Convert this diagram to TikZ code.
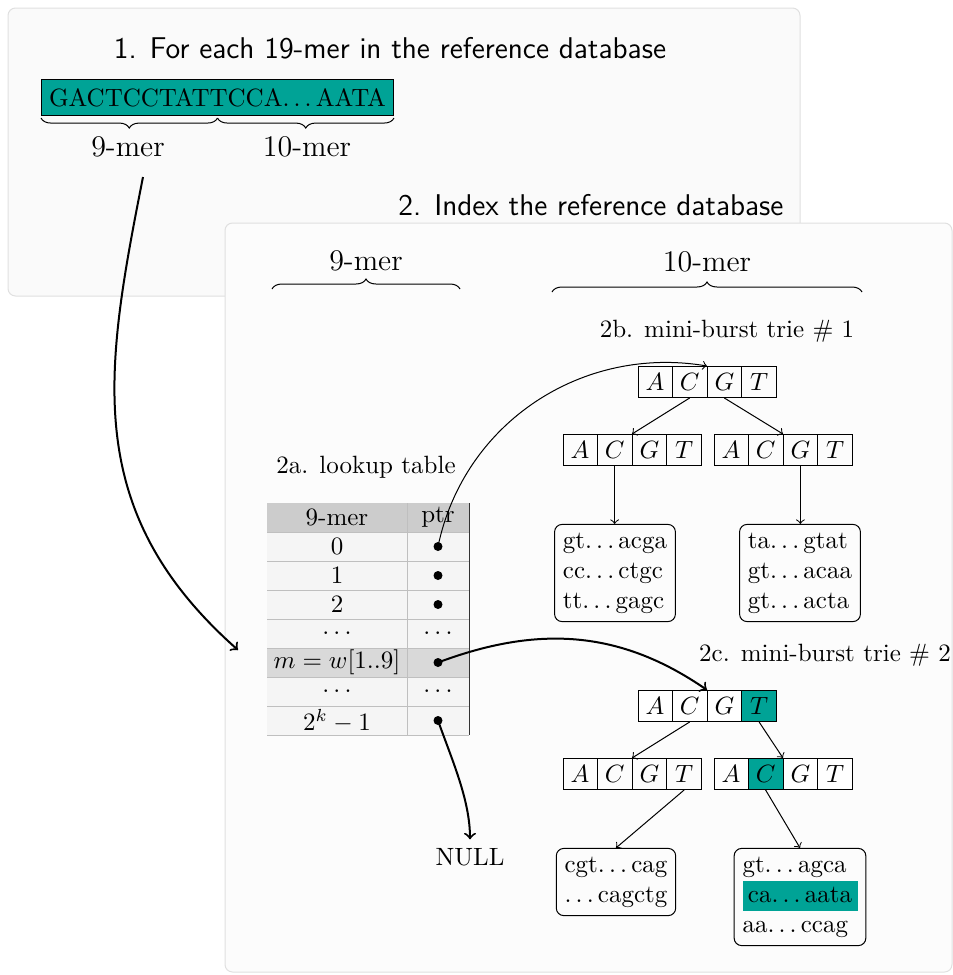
\documentclass[tikz,border=0pt]{standalone}
\usetikzlibrary{shapes.multipart,decorations.pathreplacing}
\definecolor{tealc}{RGB}{0,163,150}
\newcommand{\dd}{.\kern\fontdimen3\font.\kern\fontdimen3\font.\kern\fontdimen3\font}
\newcommand{\trcell}[1]{\makebox[13.5pt]{\rule[-2.8pt]{0pt}{12.4pt}$#1$}}
\newcommand{\acgt}{\trcell{A}\nodepart{two}\trcell{C}\nodepart{three}\trcell{G}\nodepart{four}\trcell{T}}
\begin{document}
\begin{tikzpicture}[x=0.4pt,y=-0.4pt,
    panel/.style={draw=black!12, fill=black!2, rounded corners=3pt},
    trie/.style={rectangle split, rectangle split horizontal, rectangle split parts=4, draw, inner sep=0pt},
    leaf/.style={draw, rounded corners=3pt, align=left},
    ptrdot/.style={circle, fill, inner sep=0pt, minimum size=3.6pt},
    rowline/.style={draw=black!25},
    bigarrow/.style={->, thick},
    title/.style={font=\large\sffamily},
    lbl/.style={font=\large}]
	\useasboundingbox (0,0) rectangle (953,975);
	% 1. the 19-mer
	\draw[panel] (8,8) rectangle (800,296);
	\node[title] (t1) at (390,48) {1. For each 19-mer in the reference database};
	\node[draw, fill=tealc, minimum height=14pt, inner xsep=3pt] (seq) at (217.5,97.5) {GACTCCTATTCCA\dd AATA};
	\draw[decorate, decoration={brace, mirror, amplitude=4pt}] ([yshift=-1pt]seq.south west) -- ([yshift=-1pt]seq.south);
	\draw[decorate, decoration={brace, mirror, amplitude=4pt}] ([yshift=-1pt]seq.south) -- ([yshift=-1pt]seq.south east);
	\node[lbl] (nine) at (128,147) {9-mer};
	\node[lbl] (ten) at (307,147) {10-mer};
	\node[title] (t2) at (591,205) {2. Index the reference database};
	% 2. the index
	\draw[panel, fill=black!1] (225,223) rectangle (952,972);
	\node[lbl] (nineB) at (366,261) {9-mer};
	\node[lbl] (tenB) at (707,262) {10-mer};
	\draw[decorate, decoration={brace, amplitude=4pt}] (272,289) -- (460,289);
	\draw[decorate, decoration={brace, amplitude=4pt}] (552,292) -- (862,292);
	% 2a. lookup table
	\node (lk) at (366,467) {2a. lookup table};
	\fill[black!20] (267,503) rectangle (469,532);
	\fill[black!4] (267,532) rectangle (469,735);
	\fill[black!15] (267,648) rectangle (469,677);
	\foreach \y in {532,561,...,735}
		\draw[rowline] (267,\y) -- (469,\y);
	\draw[rowline] (407,503) -- (407,735);
	\draw[black!80] (469,503) -- (469,735);
	\node (hk) at (337,517.5) {9-mer};
	\node (hp) at (438,517.5) {ptr};
	\node (k0) at (337,546.5) {0};
	\node (k1) at (337,575.5) {1};
	\node (k2) at (337,604.5) {2};
	\node (k3) at (337,633.5) {$\dots$};
	\node (km) at (337,662.5) {$m = w[1..9]$};
	\node (k5) at (337,691.5) {$\dots$};
	\node (kl) at (337,720.5) {$2^k-1$};
	\node[ptrdot] (p0) at (438,546.5) {};
	\node[ptrdot] (p1) at (438,575.5) {};
	\node[ptrdot] (p2) at (438,604.5) {};
	\node (p3) at (438,633.5) {$\dots$};
	\node[ptrdot] (pm) at (438,662.5) {};
	\node (p5) at (438,691.5) {$\dots$};
	\node[ptrdot] (pl) at (438,720.5) {};
	\node (null) at (470,857) {NULL};
	% 2b. trie 1
	\node (lbA) at (727,331) {2b. mini-burst trie \# 1};
	\node[trie] (trA) at (707,382) {\acgt};
	\node[trie] (trA1) at (632,450) {\acgt};
	\node[trie] (trA2) at (783,450) {\acgt};
	\node[leaf] (lfA1) at (615,573) {gt\dd acga\\cc\dd ctgc\\tt\dd gagc};
	\node[leaf] (lfA2) at (800,573) {ta\dd gtat\\gt\dd acaa\\gt\dd acta};
	\draw[->] (trA.two south) -- (trA1.north);
	\draw[->] (trA.three south) -- (trA2.north);
	\draw[->] (trA1.two south) -- (trA1.two south |- lfA1.north);
	\draw[->] (trA2.three south) -- (trA2.three south |- lfA2.north);
	% 2c. trie 2
	\node (lbB) at (825,655) {2c. mini-burst trie \# 2};
	\node[trie, rectangle split part fill={white,white,white,tealc}] (trB) at (707,706) {\acgt};
	\node[trie] (trB1) at (632,774) {\acgt};
	\node[trie, rectangle split part fill={white,tealc,white,white}] (trB2) at (783,774) {\acgt};
	\node[leaf] (lfB1) at (616,882) {cgt\dd cag\\\dd cagctg};
	\node[leaf] (lfB2) at (800,897) {gt\dd agca\\{\setlength{\fboxsep}{0pt}\colorbox{tealc}{\makebox[46pt]{\strut ca\dd aata}}}\\aa\dd ccag};
	\draw[->] (trB.two south) -- (trB1.north);
	\draw[->] (trB.four south) -- (trB2.north);
	\draw[->] (trB1.four south) -- (lfB1.north);
	\draw[->] (trB2.two south) -- (lfB2.north);
	% pointers
	\draw[->] (p0.center) .. controls (464,422) and (583,345) .. (trA.north);
	\draw[bigarrow] (pm.center) .. controls (538,625) and (620,630) .. (trB.north);
	\draw[bigarrow] (pl.center) .. controls (452,760) and (470,800) .. (null.north);
	\coordinate (from9) at (143,177);
	\coordinate (into) at (238,650);
	\draw[bigarrow] (from9) .. controls (105,370) and (80,510) .. (into);
\end{tikzpicture}
\end{document}
